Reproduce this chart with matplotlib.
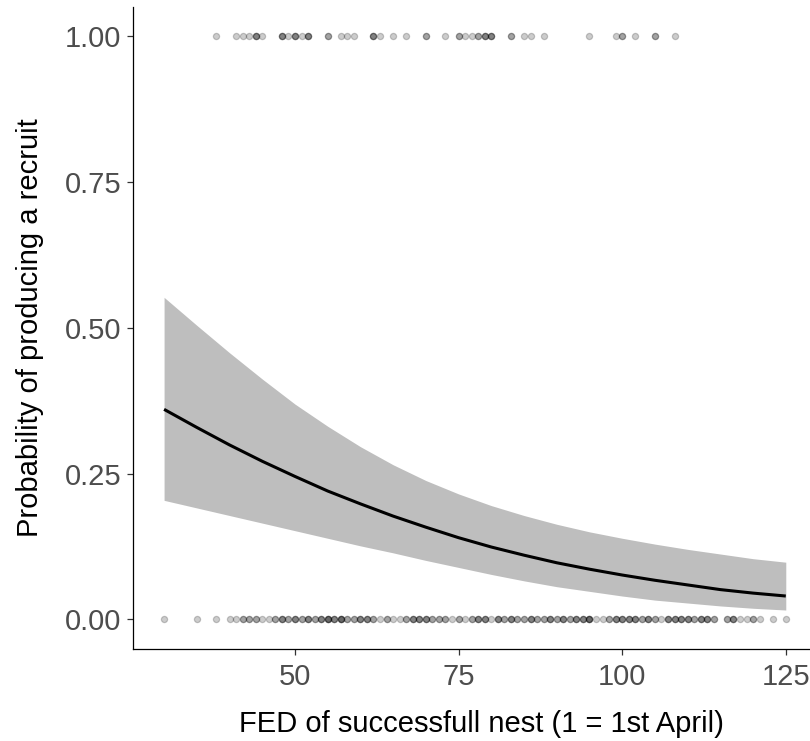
import numpy as np
import matplotlib
matplotlib.use("Agg")
import matplotlib.pyplot as plt

plt.rcParams['font.family'] = ['Liberation Sans', 'DejaVu Sans']

# fitted curve and 95% band
fed_fit = [30, 35, 40, 45, 50, 55, 60, 65, 70, 75, 80, 85, 90, 95, 100, 105, 110, 115, 120, 125]
p_fit = [0.360, 0.329, 0.299, 0.271, 0.245, 0.220, 0.198, 0.177, 0.158, 0.140,
         0.124, 0.110, 0.097, 0.086, 0.076, 0.067, 0.059, 0.051, 0.045, 0.040]
p_lo = [0.204, 0.191, 0.178, 0.165, 0.152, 0.139, 0.126, 0.114, 0.101, 0.089,
        0.077, 0.066, 0.056, 0.048, 0.040, 0.033, 0.028, 0.023, 0.019, 0.016]
p_hi = [0.552, 0.504, 0.457, 0.412, 0.369, 0.331, 0.296, 0.265, 0.238, 0.215,
        0.195, 0.178, 0.163, 0.150, 0.139, 0.129, 0.120, 0.112, 0.104, 0.098]

# raw nests: day and number of nests at that day
fed_one = [38, 41, 42, 43, 44, 45, 48, 49, 50, 51, 52, 55, 57, 58, 59, 62, 63, 65, 67,
           70, 73, 75, 76, 77, 78, 79, 80, 83, 85, 86, 88, 95, 99, 100, 102, 105, 108]
n_one = [1, 1, 1, 1, 3, 1, 3, 1, 3, 1, 3, 2, 1, 1, 1, 3, 1, 1, 1,
         2, 1, 2, 1, 1, 2, 3, 3, 2, 1, 1, 1, 1, 1, 2, 1, 2, 1]

fed_zero = [30, 35, 38, 40, 41, 42, 43, 44, 45, 46, 47, 48, 49, 50, 51, 52, 53, 54, 55,
            56, 57, 58, 59, 60, 61, 62, 63, 64, 65, 66, 67, 68, 69, 70, 71, 72, 73, 74,
            75, 76, 77, 78, 79, 80, 81, 82, 83, 84, 85, 86, 87, 88, 89, 90, 91, 92, 93,
            94, 95, 96, 97, 98, 99, 100, 101, 102, 103, 104, 105, 106, 107, 108, 109,
            110, 111, 112, 113, 114, 116, 117, 118, 119, 120, 121, 123, 125]
n_zero = [1, 1, 1, 1, 1, 2, 2, 2, 1, 1, 2, 3, 2, 3, 2, 3, 2, 3, 4,
          3, 4, 2, 2, 3, 3, 2, 1, 2, 1, 1, 2, 3, 3, 3, 2, 2, 2, 1,
          2, 1, 2, 3, 3, 1, 3, 2, 3, 2, 2, 3, 2, 2, 3, 2, 3, 2, 3,
          3, 4, 1, 1, 2, 3, 3, 3, 3, 2, 3, 2, 1, 3, 3, 3,
          3, 2, 3, 3, 2, 2, 3, 1, 1, 2, 1, 1, 1]

x_pts = np.concatenate([np.repeat(fed_zero, n_zero), np.repeat(fed_one, n_one)])
y_pts = np.concatenate([np.zeros(sum(n_zero)), np.ones(sum(n_one))])

fig = plt.figure(figsize=(8.1, 7.41), dpi=100)
ax = fig.add_axes([0.1646, 0.1248, 0.8354, 0.866])

ax.fill_between(fed_fit, p_lo, p_hi, color='#BEBEBE', linewidth=0)
ax.plot(fed_fit, p_fit, color='black', linewidth=2.2, solid_capstyle='butt')
ax.scatter(x_pts, y_pts, s=20, facecolor=(0, 0, 0, 0.2), edgecolor=(0, 0, 0, 0.2),
           linewidth=0.9, zorder=3)

ax.set_xlim(25.3, 128.7)
ax.set_ylim(-0.05, 1.05)
ax.set_xticks([50, 75, 100, 125])
ax.set_yticks([0, 0.25, 0.5, 0.75, 1.0])
ax.set_yticklabels(['0.00', '0.25', '0.50', '0.75', '1.00'])

for side in ['top', 'right']:
    ax.spines[side].set_visible(False)
for side in ['left', 'bottom']:
    ax.spines[side].set_linewidth(0.9)
ax.tick_params(axis='both', length=4.5, width=0.9, color='#333333',
               labelsize=21, labelcolor='#4D4D4D')
ax.tick_params(axis='x', pad=6)
ax.tick_params(axis='y', pad=4)

ax.set_xlabel('FED of successfull nest (1 = 1st April)', fontsize=21)
ax.set_ylabel('Probability of producing a recruit', fontsize=21, labelpad=15)
# panel runs a bit past the right edge of the picture, so the title sits right of centre
ax.xaxis.set_label_coords(0.515, -0.117, transform=ax.transAxes)
ax.xaxis.label.set_va('center')

fig.savefig('out.png', dpi=100)
